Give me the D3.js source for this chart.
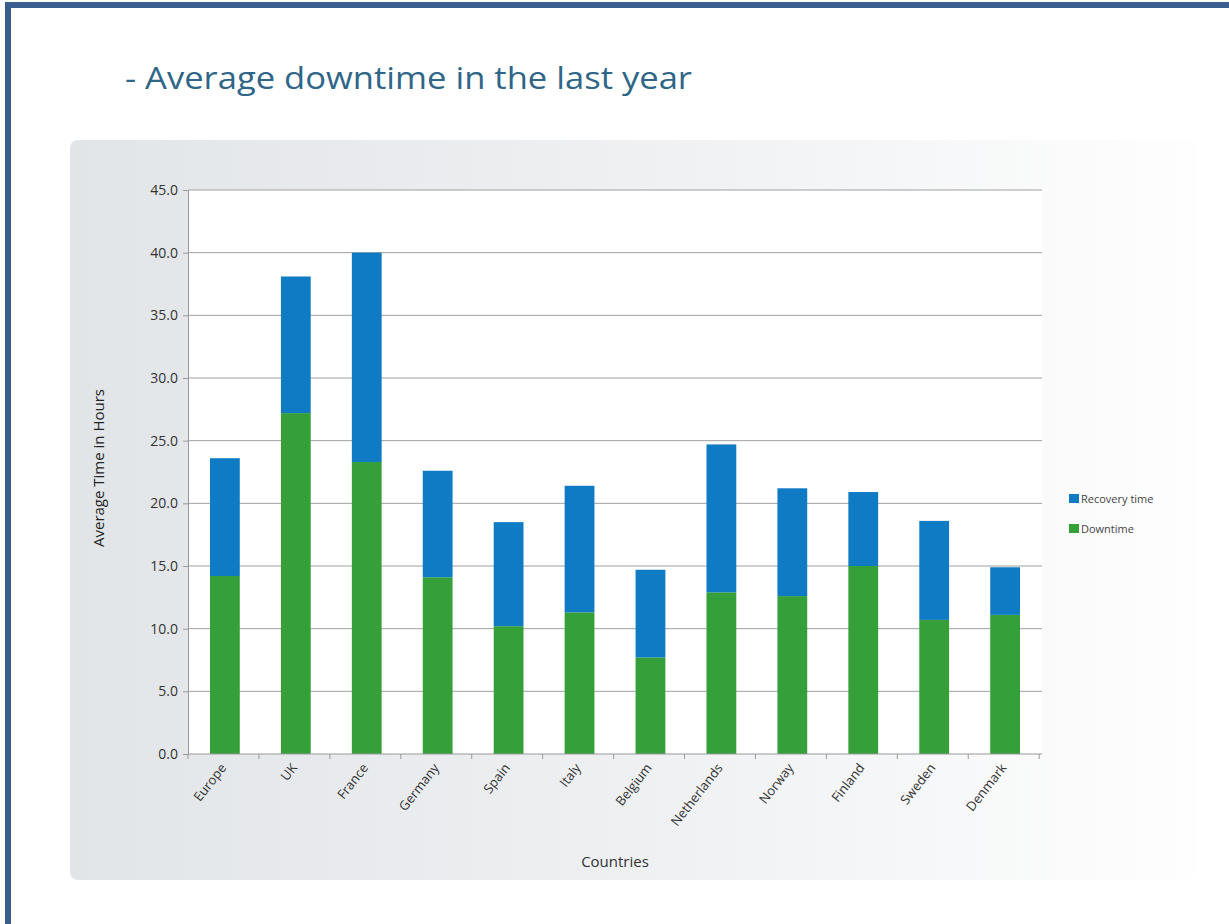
<!DOCTYPE html>
<html>
<head>
<meta charset="utf-8">
<script src="https://cdn.jsdelivr.net/npm/d3@7"></script>
<style>
  body { margin: 0; background: #fff; }
  svg { display: block; }
</style>
</head>
<body>
<div id="chart"></div>
<script>
// datos del grafico
const countries = ["Europe", "UK", "France", "Germany", "Spain", "Italy", "Belgium",
                   "Netherlands", "Norway", "Finland", "Sweden", "Denmark"];
const downtime = [14.2, 27.2, 23.3, 14.1, 10.2, 11.3, 7.7, 12.9, 12.6, 15.0, 10.7, 11.1];
const recovery = [9.4, 10.9, 16.7, 8.5, 8.3, 10.1, 7.0, 11.8, 8.6, 5.9, 7.9, 3.8];
const yTicks = [0, 5, 10, 15, 20, 25, 30, 35, 40, 45];
const seriesNames = ["Downtime", "Recovery time"];

const width = 1229, height = 924;
const margin = {top: 190, right: 187, bottom: 170, left: 188};
const colors = {"Downtime": "#35a03a", "Recovery time": "#0f7bc4"};

const svg = d3.select("#chart").append("svg")
  .attr("width", width)
  .attr("height", height);

// degradado del panel gris
const defs = svg.append("defs");
const grad = defs.append("linearGradient").attr("id", "panelGrad")
  .attr("x1", "0%").attr("x2", "100%").attr("y1", "0%").attr("y2", "0%");
grad.append("stop").attr("offset", "0%").attr("stop-color", "#e2e5e8");
grad.append("stop").attr("offset", "50%").attr("stop-color", "#eef0f2");
grad.append("stop").attr("offset", "100%").attr("stop-color", "#fefefe");

// marco azul
svg.append("rect")
  .attr("x", 8).attr("y", 5)
  .attr("width", width + 20).attr("height", height + 20)
  .attr("fill", "none")
  .attr("stroke", "#3a5f8f")
  .attr("stroke-width", 6);

// titulo
svg.append("text")
  .attr("x", 125).attr("y", 89)
  .attr("font-family", "Open Sans, sans-serif")
  .attr("font-size", 31)
  .attr("fill", "#2f6688")
  .attr("textLength", 567)
  .attr("lengthAdjust", "spacingAndGlyphs")
  .text("- Average downtime in the last year");

// panel
svg.append("rect")
  .attr("x", 70).attr("y", 140)
  .attr("width", 1126).attr("height", 740)
  .attr("rx", 8)
  .attr("fill", "url(#panelGrad)");

const innerW = width - margin.left - margin.right;
const innerH = height - margin.top - margin.bottom;

const g = svg.append("g")
  .attr("transform", `translate(${margin.left},${margin.top})`);

// area del grafico blanca
g.append("rect")
  .attr("width", innerW).attr("height", innerH)
  .attr("fill", "#fff");

const x = d3.scaleBand()
  .domain(countries)
  .range([0, innerW])
  .paddingInner(0.58)
  .paddingOuter(0.31);

const y = d3.scaleLinear()
  .domain([0, 45])
  .range([innerH, 0]);

// lineas de la grilla
g.selectAll(".grid")
  .data(yTicks.slice(1))
  .enter().append("line")
  .attr("class", "grid")
  .attr("x1", 0).attr("x2", innerW)
  .attr("y1", d => y(d)).attr("y2", d => y(d))
  .attr("stroke", "#a0a0a0")
  .attr("stroke-width", 1);

// apilar las series
const rows = countries.map((c, i) => ({country: c, "Downtime": downtime[i], "Recovery time": recovery[i]}));
const stack = d3.stack().keys(seriesNames);
const layers = stack(rows);

g.selectAll(".layer")
  .data(layers)
  .enter().append("g")
  .attr("class", "layer")
  .attr("fill", d => colors[d.key])
  .selectAll("rect")
  .data(d => d)
  .enter().append("rect")
  .attr("x", d => x(d.data.country))
  .attr("width", x.bandwidth())
  .attr("y", d => y(d[1]))
  .attr("height", d => y(d[0]) - y(d[1]));

// eje Y
const yAxis = g.append("g")
  .attr("font-size", 14)
  .call(d3.axisLeft(y).tickValues(yTicks).tickFormat(d3.format(".1f")).tickSize(5).tickSizeOuter(0));
yAxis.attr("font-size", 14).attr("font-family", "Open Sans, sans-serif");
yAxis.select(".domain").attr("stroke", "#999");
yAxis.selectAll(".tick line").attr("stroke", "#999");
yAxis.selectAll("text")
  .style("font-size", "14px")
  .attr("fill", "#333")
  .attr("dx", "-2");

// eje X con marcas entre categorias
const xAxisG = g.append("g").attr("transform", `translate(0,${innerH})`);
xAxisG.append("line")
  .attr("x1", 0).attr("x2", innerW)
  .attr("stroke", "#999");
const step = x.step();
xAxisG.selectAll(".xtick")
  .data(d3.range(countries.length + 1))
  .enter().append("line")
  .attr("class", "xtick")
  .attr("x1", d => d * step).attr("x2", d => d * step)
  .attr("y1", 0).attr("y2", 5)
  .attr("stroke", "#999");

xAxisG.selectAll(".xlabel")
  .data(countries)
  .enter().append("text")
  .attr("class", "xlabel")
  .attr("transform", d => `translate(${x(d) + x.bandwidth() / 2 + 2},${14}) rotate(-52)`)
  .attr("text-anchor", "end")
  .attr("font-family", "Open Sans, sans-serif")
  .attr("font-size", 13)
  .attr("fill", "#333")
  .text(d => d);

// titulos de los ejes
svg.append("text")
  .attr("transform", `translate(104,468) rotate(-90)`)
  .attr("text-anchor", "middle")
  .attr("font-family", "Open Sans, sans-serif")
  .attr("font-size", 15)
  .attr("fill", "#222")
  .text("Average Time in Hours");

svg.append("text")
  .attr("x", 615).attr("y", 867)
  .attr("text-anchor", "middle")
  .attr("font-family", "Open Sans, sans-serif")
  .attr("font-size", 15)
  .attr("fill", "#333")
  .text("Countries");

// leyenda
const legend = svg.append("g").attr("transform", "translate(1069,494)");
const legendItems = ["Recovery time", "Downtime"];
legend.selectAll("rect")
  .data(legendItems)
  .enter().append("rect")
  .attr("x", 0).attr("y", (d, i) => i * 30)
  .attr("width", 10).attr("height", 9)
  .attr("fill", d => colors[d]);
legend.selectAll("text")
  .data(legendItems)
  .enter().append("text")
  .attr("x", 12).attr("y", (d, i) => i * 30 + 9)
  .attr("font-family", "Open Sans, sans-serif")
  .attr("font-size", 11)
  .attr("fill", "#444")
  .text(d => d);
</script>
</body>
</html>
